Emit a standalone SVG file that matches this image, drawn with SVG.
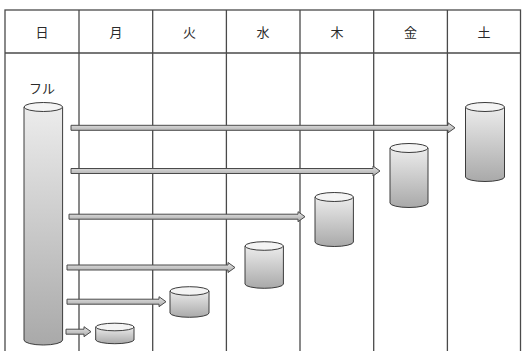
<svg xmlns="http://www.w3.org/2000/svg" width="522" height="351" viewBox="0 0 522 351">
<defs>
<linearGradient id="body" x1="0" y1="0" x2="0" y2="1">
<stop offset="0" stop-color="#ececec"/>
<stop offset="1" stop-color="#a9a9a9"/>
</linearGradient>
<linearGradient id="arr" x1="0" y1="0" x2="0" y2="1">
<stop offset="0" stop-color="#e6e6e6"/>
<stop offset="1" stop-color="#a8a8a8"/>
</linearGradient>
</defs>
<style>
.grid{stroke:#4a4a4a;stroke-width:1.3;fill:none}
.hdr{font-family:"Noto Sans CJK JP","Noto Sans",sans-serif;font-size:13px;fill:#2a2a2a;text-anchor:middle}
.cyl{fill:url(#body);stroke:#3c3c3c;stroke-width:1}
.top{fill:#f4f4f4;stroke:#3c3c3c;stroke-width:1}
.arrow{fill:url(#arr);stroke:#4a4a4a;stroke-width:1}
</style>
<rect x="0" y="0" width="522" height="351" fill="#fff"/>
<g id="table">
<rect class="grid" x="5" y="10" width="515.5" height="345"/>
<line class="grid" x1="5" y1="53" x2="520.5" y2="53"/>
<line class="grid" x1="79" y1="10" x2="79" y2="351"/>
<line class="grid" x1="152.7" y1="10" x2="152.7" y2="351"/>
<line class="grid" x1="226.4" y1="10" x2="226.4" y2="351"/>
<line class="grid" x1="300" y1="10" x2="300" y2="351"/>
<line class="grid" x1="373.7" y1="10" x2="373.7" y2="351"/>
<line class="grid" x1="447.4" y1="10" x2="447.4" y2="351"/>
<text class="hdr" x="42" y="37">日</text>
<text class="hdr" x="116" y="37">月</text>
<text class="hdr" x="189.5" y="37">火</text>
<text class="hdr" x="263" y="37">水</text>
<text class="hdr" x="337" y="37">木</text>
<text class="hdr" x="410.5" y="37">金</text>
<text class="hdr" x="484" y="37">土</text>
</g>
<g id="full">
<text class="hdr" x="42" y="93">フル</text>
<path class="cyl" d="M24,107 L24,340 A19.3,5 0 0 0 62.6,340 L62.6,107 Z"/>
<ellipse class="top" cx="43.3" cy="107" rx="19.3" ry="4.5"/>
</g>
<g id="mon">
<path class="cyl" d="M95.7,327 L95.7,340 A19.2,4 0 0 0 134,340 L134,327 Z"/>
<ellipse class="top" cx="114.85" cy="327" rx="19.2" ry="3.8"/>
</g>
<g id="tue">
<path class="cyl" d="M170,291 L170,313 A19.5,4.3 0 0 0 209,313 L209,291 Z"/>
<ellipse class="top" cx="189.5" cy="291" rx="19.5" ry="4.3"/>
</g>
<g id="wed">
<path class="cyl" d="M245,246 L245,284 A19.2,4.3 0 0 0 283.4,284 L283.4,246 Z"/>
<ellipse class="top" cx="264.2" cy="246" rx="19.2" ry="4.3"/>
</g>
<g id="thu">
<path class="cyl" d="M315,197 L315,242 A19.2,4.5 0 0 0 353.4,242 L353.4,197 Z"/>
<ellipse class="top" cx="334.2" cy="197" rx="19.2" ry="4.5"/>
</g>
<g id="fri">
<path class="cyl" d="M390,148 L390,203 A19,4.5 0 0 0 428,203 L428,148 Z"/>
<ellipse class="top" cx="409" cy="148" rx="19" ry="4.5"/>
</g>
<g id="sat">
<path class="cyl" d="M465.5,107 L465.5,177 A19.5,4.5 0 0 0 504.5,177 L504.5,107 Z"/>
<ellipse class="top" cx="485" cy="107" rx="19.5" ry="4.5"/>
</g>
<g id="connectors">
<path class="arrow" d="M71,125.3 L448,125.3 L448,122.8 L455,127.8 L448,132.8 L448,130.3 L71,130.3 Z"/>
<path class="arrow" d="M71,168.5 L373,168.5 L373,166 L380,171 L373,176 L373,173.5 L71,173.5 Z"/>
<path class="arrow" d="M69,214.2 L298,214.2 L298,211.7 L305,216.7 L298,221.7 L298,219.2 L69,219.2 Z"/>
<path class="arrow" d="M67,265 L228,265 L228,262.5 L235,267.5 L228,272.5 L228,270 L67,270 Z"/>
<path class="arrow" d="M67,299.2 L159,299.2 L159,296.7 L166,301.7 L159,306.7 L159,304.2 L67,304.2 Z"/>
<path class="arrow" d="M66,329.2 L84,329.2 L84,326.7 L91,331.7 L84,336.7 L84,334.2 L66,334.2 Z"/>
</g>
</svg>
